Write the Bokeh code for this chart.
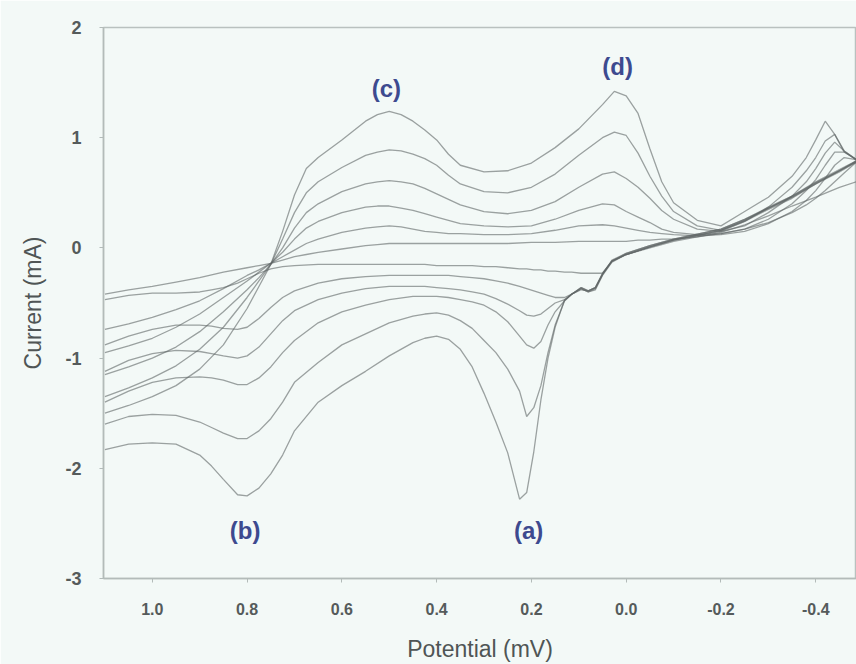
from bokeh.plotting import figure
from bokeh.models import Range1d, FixedTicker, NumeralTickFormatter, ColumnDataSource
from bokeh.core.properties import value
from bokeh.embed import file_html
from bokeh.resources import INLINE

# ---------------- data ----------------
# potential grid of the anodic (upper) branches, V
XU = [1.10, 1.05, 1.00, 0.95, 0.90, 0.85, 0.80, 0.775, 0.75, 0.725, 0.70, 0.675, 0.65,
      0.60, 0.55, 0.525, 0.50, 0.475, 0.45, 0.425, 0.40, 0.375, 0.35,
      0.30, 0.25, 0.20, 0.15, 0.10, 0.05, 0.025, 0.00, -0.025, -0.05,
      -0.075, -0.10, -0.15, -0.20, -0.25, -0.30, -0.35, -0.38, -0.40, -0.42,
      -0.44, -0.46, -0.486]

U6 = [-1.50, -1.43, -1.35, -1.25, -1.10, -0.88, -0.55, -0.35, -0.15, 0.15, 0.48, 0.72, 0.82,
      0.98, 1.15, 1.21, 1.24, 1.21, 1.15, 1.07, 0.98, 0.85, 0.75,
      0.69, 0.70, 0.77, 0.91, 1.08, 1.30, 1.42, 1.38, 1.22, 0.90,
      0.60, 0.41, 0.25, 0.20, 0.33, 0.46, 0.65, 0.82, 0.98, 1.15,
      1.03, 0.87, 0.80]
U5 = [-1.35, -1.27, -1.18, -1.07, -0.92, -0.72, -0.45, -0.30, -0.15, 0.08, 0.32, 0.50, 0.60,
      0.73, 0.84, 0.87, 0.89, 0.88, 0.85, 0.81, 0.75, 0.66, 0.58,
      0.51, 0.50, 0.55, 0.67, 0.84, 1.00, 1.05, 1.02, 0.86, 0.65,
      0.47, 0.33, 0.20, 0.16, 0.24, 0.37, 0.55, 0.70, 0.82, 0.97,
      1.03, 0.88, 0.80]
U4 = [-1.15, -1.08, -1.00, -0.90, -0.76, -0.58, -0.38, -0.27, -0.15, 0.00, 0.18, 0.32, 0.40,
      0.51, 0.58, 0.60, 0.61, 0.60, 0.58, 0.54, 0.49, 0.44, 0.39,
      0.33, 0.31, 0.34, 0.42, 0.55, 0.67, 0.69, 0.63, 0.55, 0.45,
      0.34, 0.26, 0.17, 0.15, 0.20, 0.32, 0.47, 0.60, 0.72, 0.86,
      0.96, 0.88, 0.80]
U3 = [-0.95, -0.89, -0.82, -0.72, -0.60, -0.45, -0.30, -0.22, -0.14, -0.04, 0.08, 0.18, 0.24,
      0.32, 0.37, 0.38, 0.38, 0.36, 0.34, 0.31, 0.28, 0.25, 0.22,
      0.20, 0.19, 0.20, 0.26, 0.34, 0.40, 0.39, 0.33, 0.28, 0.23,
      0.17, 0.14, 0.12, 0.13, 0.17, 0.26, 0.40, 0.52, 0.62, 0.75,
      0.87, 0.87, 0.80]
U2 = [-0.74, -0.69, -0.63, -0.56, -0.48, -0.37, -0.25, -0.20, -0.14, -0.08, -0.02, 0.04, 0.08,
      0.14, 0.18, 0.19, 0.20, 0.19, 0.17, 0.15, 0.14, 0.13, 0.13,
      0.12, 0.12, 0.13, 0.16, 0.20, 0.21, 0.20, 0.18, 0.16, 0.14,
      0.13, 0.12, 0.11, 0.12, 0.15, 0.22, 0.33, 0.43, 0.52, 0.63,
      0.75, 0.82, 0.80]
U1 = [-0.42, -0.38, -0.35, -0.31, -0.27, -0.22, -0.18, -0.16, -0.14, -0.11, -0.08, -0.06, -0.04,
      -0.01, 0.02, 0.03, 0.04, 0.04, 0.04, 0.04, 0.04, 0.04, 0.04,
      0.04, 0.04, 0.05, 0.05, 0.06, 0.06, 0.06, 0.06, 0.07, 0.07,
      0.08, 0.08, 0.10, 0.13, 0.17, 0.23, 0.32, 0.39, 0.45, 0.52,
      0.60, 0.68, 0.78]

# potential grid of the cathodic (lower) branches, V
XL = [1.10, 1.05, 1.00, 0.95, 0.90, 0.875, 0.85, 0.82, 0.80, 0.775, 0.75,
      0.725, 0.70, 0.65, 0.60, 0.55, 0.50, 0.45, 0.425, 0.40, 0.375, 0.35, 0.325, 0.30,
      0.275, 0.25, 0.225, 0.21, 0.195, 0.18, 0.165, 0.15, 0.13, 0.115,
      0.095, 0.08, 0.065, 0.05, 0.03, 0.00, -0.05, -0.10, -0.20, -0.25,
      -0.30, -0.35, -0.40, -0.45, -0.486]

D6 = [-1.83, -1.78, -1.77, -1.78, -1.88, -1.98, -2.10, -2.24, -2.25, -2.18, -2.05,
      -1.88, -1.66, -1.40, -1.25, -1.12, -0.98, -0.86, -0.82, -0.80, -0.83, -0.92, -1.08, -1.32,
      -1.58, -1.86, -2.28, -2.22, -1.85, -1.38, -1.00, -0.72, -0.47, -0.42,
      -0.37, -0.40, -0.37, -0.24, -0.12, -0.06, 0.01, 0.07, 0.16, 0.25,
      0.36, 0.46, 0.59, 0.70, 0.79]
D5 = [-1.60, -1.53, -1.51, -1.52, -1.58, -1.63, -1.68, -1.73, -1.73, -1.66, -1.55,
      -1.40, -1.22, -1.04, -0.88, -0.78, -0.68, -0.62, -0.60, -0.59, -0.61, -0.66, -0.73, -0.84,
      -0.95, -1.10, -1.30, -1.53, -1.45, -1.25, -0.95, -0.70, -0.48, -0.42,
      -0.36, -0.39, -0.36, -0.23, -0.12, -0.05, 0.02, 0.08, 0.17, 0.26,
      0.37, 0.47, 0.60, 0.71, 0.79]
D4 = [-1.40, -1.30, -1.22, -1.18, -1.17, -1.18, -1.20, -1.24, -1.24, -1.18, -1.08,
      -0.95, -0.84, -0.68, -0.58, -0.52, -0.47, -0.44, -0.44, -0.44, -0.45, -0.47, -0.49, -0.52,
      -0.58, -0.67, -0.80, -0.88, -0.91, -0.85, -0.70, -0.58, -0.48, -0.42,
      -0.37, -0.40, -0.38, -0.25, -0.13, -0.06, 0.01, 0.07, 0.15, 0.24,
      0.35, 0.45, 0.58, 0.69, 0.78]
D3 = [-1.12, -1.02, -0.96, -0.93, -0.94, -0.96, -0.98, -1.00, -0.98, -0.90, -0.78,
      -0.66, -0.57, -0.47, -0.41, -0.37, -0.35, -0.35, -0.35, -0.36, -0.37, -0.38, -0.40, -0.42,
      -0.46, -0.51, -0.57, -0.61, -0.62, -0.60, -0.55, -0.50, -0.47, -0.42,
      -0.36, -0.39, -0.36, -0.24, -0.11, -0.05, 0.02, 0.08, 0.17, 0.26,
      0.36, 0.47, 0.59, 0.70, 0.79]
D2 = [-0.88, -0.80, -0.74, -0.70, -0.70, -0.71, -0.73, -0.74, -0.72, -0.64, -0.54,
      -0.45, -0.39, -0.32, -0.28, -0.26, -0.25, -0.25, -0.25, -0.25, -0.25, -0.26, -0.27, -0.28,
      -0.30, -0.32, -0.35, -0.37, -0.39, -0.41, -0.43, -0.45, -0.45, -0.42,
      -0.38, -0.39, -0.36, -0.24, -0.12, -0.06, 0.01, 0.07, 0.16, 0.25,
      0.36, 0.46, 0.58, 0.70, 0.78]
D1 = [-0.47, -0.43, -0.41, -0.41, -0.40, -0.38, -0.36, -0.32, -0.28, -0.23, -0.19,
      -0.17, -0.16, -0.15, -0.15, -0.15, -0.15, -0.15, -0.15, -0.16, -0.16, -0.16, -0.16, -0.17,
      -0.17, -0.18, -0.19, -0.19, -0.20, -0.20, -0.21, -0.21, -0.22, -0.22,
      -0.23, -0.23, -0.23, -0.23, -0.12, -0.06, 0.00, 0.06, 0.14, 0.21,
      0.29, 0.38, 0.46, 0.55, 0.60]

UPPER = [U1, U2, U3, U4, U5, U6]
LOWER = [D1, D2, D3, D4, D5, D6]

X_TICKS = [1.0, 0.8, 0.6, 0.4, 0.2, 0.0, -0.2, -0.4]
Y_TICKS = [2, 1, 0, -1, -2, -3]

LABEL_TEXT = ["(a)", "(b)", "(c)", "(d)"]
LABEL_X = [0.206, 0.804, 0.506, 0.018]
LABEL_Y = [-2.56, -2.56, 1.45, 1.65]

# ---------------- figure ----------------
BG = "#f3f9f7"
FONT = "Liberation Sans"

p = figure(width=856, height=664,
           x_range=Range1d(1.103, -0.486), y_range=Range1d(-3, 2),
           output_backend="svg", toolbar_location=None,
           min_border_left=103, min_border_right=0,
           min_border_top=27, min_border_bottom=86)
p.background_fill_color = BG
p.border_fill_color = BG
p.outline_line_color = "#b9c1bf"
p.outline_line_width = 1.5
p.xgrid.grid_line_color = None
p.ygrid.grid_line_color = None

for ys in UPPER:
    p.line(XU, ys, line_color="#5f6666", line_alpha=0.6, line_width=1.3)
for ys in LOWER:
    p.line(XL, ys, line_color="#5f6666", line_alpha=0.6, line_width=1.3)

src = ColumnDataSource(dict(x=LABEL_X, y=LABEL_Y, t=LABEL_TEXT))
p.text(x="x", y="y", text="t", source=src, text_font=value(FONT),
       text_font_style="bold", text_font_size="24px", text_color="#3d4a8f",
       text_align="center", text_baseline="middle")

xa = p.xaxis[0]
xa.ticker = FixedTicker(ticks=X_TICKS)
xa.formatter = NumeralTickFormatter(format="0.0")
xa.axis_label = "Potential (mV)"
ya = p.yaxis[0]
ya.ticker = FixedTicker(ticks=Y_TICKS)
ya.formatter = NumeralTickFormatter(format="0")
ya.axis_label = "Current (mA)"

for ax in (xa, ya):
    ax.axis_line_color = "#b3bbb9"
    ax.axis_line_width = 1.5
    ax.major_tick_line_color = "#b3bbb9"
    ax.major_tick_out = 4
    ax.major_tick_in = 0
    ax.minor_tick_line_color = None
    ax.major_label_text_font = FONT
    ax.major_label_text_color = "#555b5b"
    ax.axis_label_text_font = FONT
    ax.axis_label_text_font_style = "normal"
    ax.axis_label_text_color = "#4f5555"
    ax.axis_label_text_font_size = "23px"

xa.major_label_text_font_size = "16px"
xa.major_label_text_font_style = "bold"
xa.major_label_standoff = 20
xa.axis_label_standoff = 18
ya.major_label_text_font_size = "18px"
ya.major_label_text_font_style = "bold"
ya.major_label_standoff = 18
ya.axis_label_standoff = 16

open("out.html", "w").write(file_html(p, INLINE))
